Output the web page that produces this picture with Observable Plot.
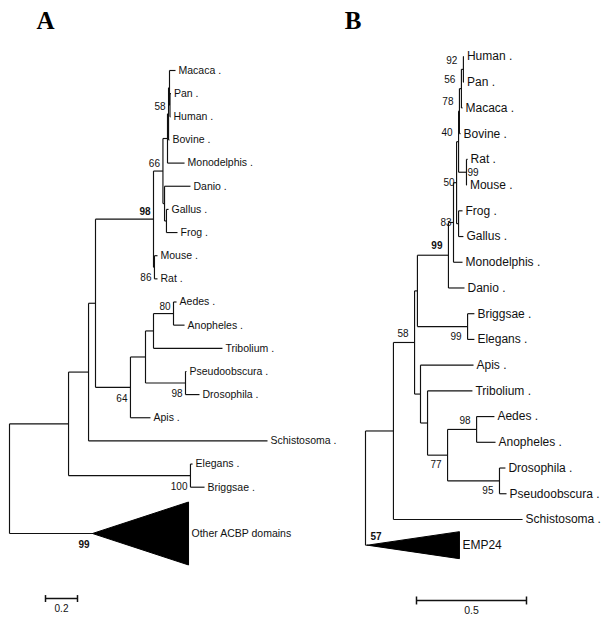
<!DOCTYPE html>
<html><head><meta charset="utf-8">
<script src="https://cdn.jsdelivr.net/npm/d3@7"></script>
<script src="https://cdn.jsdelivr.net/npm/@observablehq/plot@0.6"></script>
<style>
body{margin:0;background:#fff;}
#wrap{position:relative;width:608px;height:620px;overflow:hidden;background:#fff;}
#wrap svg{position:absolute;left:0;top:0;display:block;}
</style></head><body><div id="wrap"></div>
<script>
// ---------- Panel A : ACBP tree (node, parent, distance from root) ----------
const branchesA = [
  ["rootA", null, 0],
  ["n1", "rootA", 0.369],
  ["n2", "n1", 0.494],
  ["n3", "n2", 0.5375],
  ["vert", "n3", 0.9],
  ["n66", "vert", 0.959],
  ["n58", "n66", 0.9875],
  ["nPB", "n58", 0.994],
  ["nPrim", "nPB", 1.0],
  ["Macaca", "nPrim", 1.0375],
  ["nPH", "nPrim", 1.003],
  ["Pan", "nPH", 1.009],
  ["Human", "nPH", 1.006],
  ["Bovine", "nPB", 1.0],
  ["Monodelphis", "n58", 1.094],
  ["nDGF", "n66", 0.969],
  ["Danio", "nDGF", 1.131],
  ["nGF", "nDGF", 0.981],
  ["Gallus", "nGF", 0.994],
  ["Frog", "nGF", 1.05],
  ["nMR", "vert", 0.906],
  ["Mouse", "nMR", 0.925],
  ["Rat", "nMR", 0.925],
  ["n64", "n3", 0.756],
  ["n145", "n64", 0.85],
  ["nAAT", "n145", 0.9],
  ["n80", "nAAT", 1.025],
  ["Aedes", "n80", 1.044],
  ["Anopheles", "n80", 1.094],
  ["Tribolium", "nAAT", 1.331],
  ["nPD", "n145", 1.1],
  ["Pseudoobscura", "nPD", 1.106],
  ["Drosophila", "nPD", 1.1875],
  ["Apis", "n64", 0.881],
  ["Schistosoma", "n2", 1.6125],
  ["nEB", "n1", 1.131],
  ["Elegans", "nEB", 1.144],
  ["Briggsae", "nEB", 1.219]
];
// collapsed clade: name, parent, apex distance, tip distance, rows, span (rows)
const collapsedA = [["Other ACBP domains", "rootA", 0.519, 1.119, 3, 2.72]];
// bootstrap support: node, value, bold, placement
const supportA = [
  ["nPB", "58", false, "above"],
  ["n66", "66", false, "above"],
  ["vert", "98", true, "above"],
  ["nMR", "86", false, "below"],
  ["n80", "80", false, "above"],
  ["nPD", "98", false, "below"],
  ["n64", "64", false, "below"],
  ["nEB", "100", false, "below"],
  ["Other ACBP domains", "99", true, "below"]
];
const scaleBarA = 0.2;

// ---------- Panel B : tree with EMP24 outgroup ----------
const branchesB = [
  ["rootB", null, 0],
  ["z", "rootB", 0.127],
  ["y", "z", 0.223],
  ["x", "y", 0.236],
  ["v99", "x", 0.377],
  ["n83", "v99", 0.400],
  ["n50", "n83", 0.414],
  ["mam", "n50", 0.423],
  ["hpmb", "mam", 0.427],
  ["hpm", "hpmb", 0.436],
  ["hp", "hpm", 0.445],
  ["Human", "hp", 0.4475],
  ["Pan", "hp", 0.4475],
  ["Macaca", "hpm", 0.441],
  ["Bovine", "hpmb", 0.432],
  ["rm", "mam", 0.459],
  ["Rat", "rm", 0.464],
  ["Mouse", "rm", 0.461],
  ["fg", "n50", 0.423],
  ["Frog", "fg", 0.441],
  ["Gallus", "fg", 0.445],
  ["Monodelphis", "n83", 0.441],
  ["Danio", "v99", 0.45],
  ["be", "x", 0.464],
  ["Briggsae", "be", 0.495],
  ["Elegans", "be", 0.495],
  ["ins", "y", 0.25],
  ["Apis", "ins", 0.491],
  ["j", "ins", 0.282],
  ["Tribolium", "j", 0.486],
  ["n77", "j", 0.373],
  ["n98", "n77", 0.505],
  ["Aedes", "n98", 0.586],
  ["Anopheles", "n98", 0.591],
  ["n95", "n77", 0.609],
  ["Drosophila", "n95", 0.636],
  ["Pseudoobscura", "n95", 0.641],
  ["Schistosoma", "z", 0.714]
];
const collapsedB = [["EMP24", "rootB", 0.009, 0.427, 1, 1.05]];
const supportB = [
  ["hp", "92", false, "above"],
  ["hpm", "56", false, "above"],
  ["hpmb", "78", false, "above"],
  ["mam", "40", false, "above"],
  ["rm", "99", false, "right"],
  ["n50", "50", false, "left"],
  ["n83", "83", false, "left"],
  ["v99", "99", true, "above"],
  ["be", "99", false, "below"],
  ["y", "58", false, "above"],
  ["n98", "98", false, "above"],
  ["n77", "77", false, "below"],
  ["n95", "95", false, "below"],
  ["EMP24", "57", true, "aboveRight"]
];
const scaleBarB = 0.5;
const panelLetters = ["A", "B"];

// ---------- drawing ----------
const W = 608, H = 620;
const FONT = "'Liberation Sans', Arial, sans-serif";
const INK = "#111";

function panel(branches, collapsed, support, scaleLen, letter, cfg) {
  const all = [
    ...branches.map(([id, parent, dist]) => ({id, parent, dist})),
    ...collapsed.map(([id, parent, dist, tip, rows, span]) => ({id, parent, dist, tip, rows, span, collapsed: true}))
  ];
  const nodes = new Map();
  all.forEach(n => { n.children = []; nodes.set(n.id, n); });
  let root;
  all.forEach(n => { if (n.parent == null) root = n; else nodes.get(n.parent).children.push(n); });
  let row = 0;
  (function place(n) {
    if (n.collapsed) { n.y = row + (n.rows - 1) / 2; row += n.rows; }
    else if (!n.children.length) { n.y = row; row += 1; }
    else { n.children.forEach(place); n.y = (n.children[0].y + n.children[n.children.length - 1].y) / 2; }
  })(root);

  const horiz = all.filter(n => n.parent != null).map(n => ({x1: nodes.get(n.parent).dist, x2: n.dist, y: n.y}));
  const vert = all.filter(n => n.children.length).map(n => ({x: n.dist, y1: n.children[0].y, y2: n.children[n.children.length - 1].y}));
  const tris = all.filter(n => n.collapsed).flatMap(n => [
    {id: n.id, x: n.dist, y: n.y}, {id: n.id, x: n.tip, y: n.y - n.span / 2},
    {id: n.id, x: n.tip, y: n.y + n.span / 2}, {id: n.id, x: n.dist, y: n.y}]);
  const leaves = all.filter(n => !n.children.length).map(n => ({
    x: n.collapsed ? n.tip : n.dist, y: n.y, text: n.collapsed ? n.id : n.id + " ."}));
  const sup = support.map(([id, text, bold, place]) => ({x: nodes.get(id).dist, y: nodes.get(id).y, text, bold, place}));

  const supMarks = Object.entries(cfg.places).flatMap(([place, p]) => [false, true].map(bold =>
    Plot.text(sup.filter(d => d.place === place && d.bold === bold), {
      x: "x", y: "y", text: "text", textAnchor: p.anchor, dx: p.dx, dy: p.dy,
      fontSize: cfg.supFont, fontWeight: bold ? "bold" : "normal", fontFamily: FONT, fill: INK
    })));

  const sb = cfg.bar;
  const tick = sb.tick;
  return Plot.plot({
    width: W, height: H, margin: 0,
    style: {background: "transparent", overflow: "visible"},
    x: {domain: [-cfg.ox / cfg.k, (W - cfg.ox) / cfg.k], range: [0, W], axis: null},
    y: {domain: [-cfg.oy / cfg.rowH, (H - cfg.oy) / cfg.rowH], range: [0, H], axis: null},
    marks: [
      Plot.link(horiz, {x1: "x1", x2: "x2", y1: "y", y2: "y", stroke: INK, strokeWidth: 1.15}),
      Plot.link(vert, {x1: "x", x2: "x", y1: "y1", y2: "y2", stroke: INK, strokeWidth: 1.15}),
      Plot.line(tris, {x: "x", y: "y", z: "id", fill: "#000", stroke: "#000", strokeWidth: 1}),
      Plot.text(leaves, {x: "x", y: "y", text: "text", textAnchor: "start", dx: cfg.gap,
        fontSize: cfg.leafFont, fontFamily: FONT, fill: INK}),
      ...supMarks,
      Plot.link([{x1: sb.start, x2: sb.start + scaleLen, y: sb.row}], {x1: "x1", x2: "x2", y1: "y", y2: "y", stroke: INK, strokeWidth: 1.5}),
      Plot.link([sb.start, sb.start + scaleLen], {x1: d => d, x2: d => d, y1: () => sb.row - tick, y2: () => sb.row + tick, stroke: INK, strokeWidth: 1.5}),
      Plot.text([scaleLen], {x: d => sb.start + d / 2, y: () => sb.textRow, text: d => String(d),
        fontSize: cfg.barFont, fontFamily: FONT, fill: INK}),
      Plot.text([letter], {frameAnchor: "top-left", dx: cfg.letterX, dy: 20, textAnchor: "middle", lineAnchor: "middle",
        fontSize: 25, fontWeight: "bold", fontFamily: "'Liberation Serif', 'Times New Roman', serif", fill: "#000"})
    ]
  });
}

const cfgA = {
  ox: 9, k: 160, oy: 70, rowH: 23.15, leafFont: 10.5, supFont: 10, barFont: 10, gap: 3, letterX: 45,
  bar: {start: 0.225, row: 22.81, tick: 0.15, textRow: 23.26},
  places: {above: {anchor: "end", dx: -3, dy: -7}, below: {anchor: "end", dx: -3, dy: 11}}
};
const cfgB = {
  ox: 365, k: 220, oy: 56, rowH: 25.72, leafFont: 12, supFont: 10, barFont: 10.5, gap: 3, letterX: 352.5,
  bar: {start: 0.2318, row: 21.15, tick: 0.155, textRow: 21.55},
  places: {
    above: {anchor: "end", dx: -6, dy: -9}, below: {anchor: "end", dx: -6, dy: 10},
    left: {anchor: "end", dx: -2, dy: 0}, right: {anchor: "start", dx: 1, dy: 1},
    aboveRight: {anchor: "start", dx: 3, dy: -8}
  }
};

const wrap = document.getElementById("wrap");
wrap.appendChild(panel(branchesA, collapsedA, supportA, scaleBarA, panelLetters[0], cfgA));
wrap.appendChild(panel(branchesB, collapsedB, supportB, scaleBarB, panelLetters[1], cfgB));
</script></body></html>
